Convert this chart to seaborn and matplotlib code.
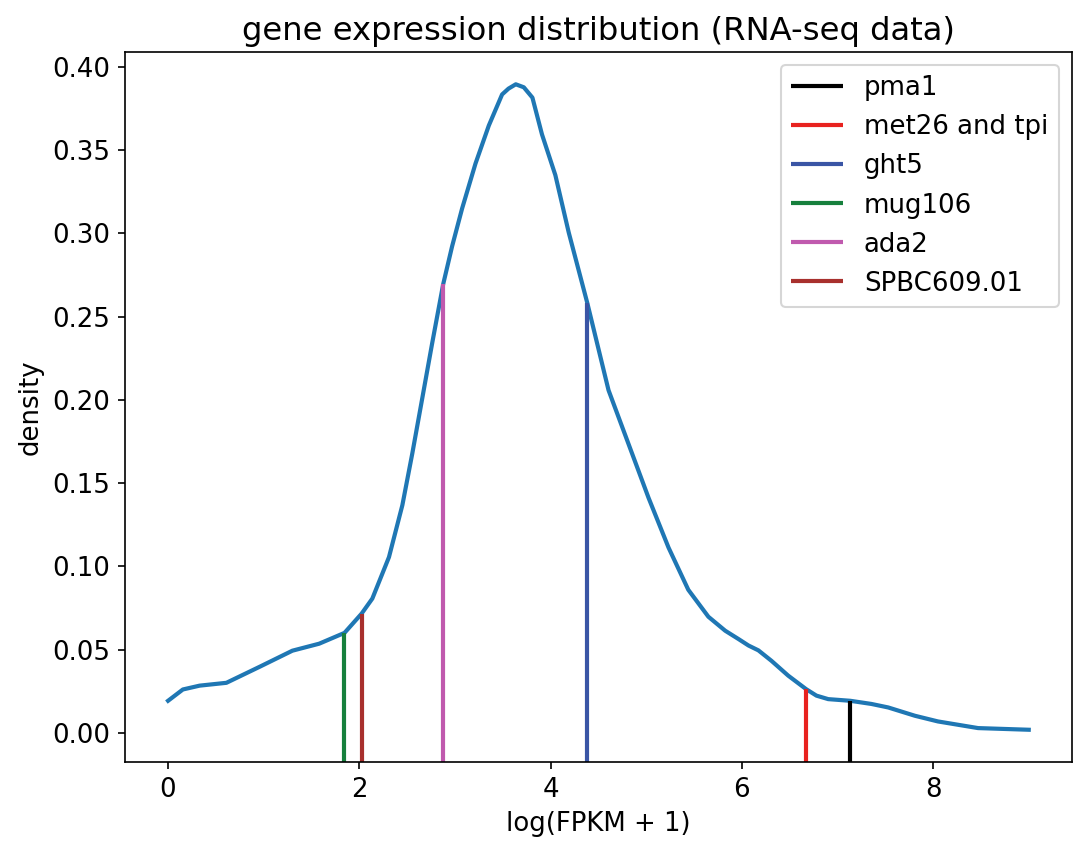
import numpy as np
import pandas as pd
import matplotlib
matplotlib.use("Agg")
import matplotlib.pyplot as plt
import seaborn as sns

# density curve
curve_x = [0.0, 0.155, 0.33, 0.61, 0.96, 1.30, 1.58, 1.845, 2.023, 2.136, 2.31,
           2.45, 2.554, 2.658, 2.762, 2.877, 2.97, 3.075, 3.215, 3.354, 3.493,
           3.56, 3.636, 3.72, 3.81, 3.91, 4.05, 4.19, 4.383, 4.606, 4.815, 5.024,
           5.233, 5.44, 5.65, 5.826, 5.965, 6.07, 6.173, 6.31, 6.485, 6.672, 6.78,
           6.903, 7.134, 7.355, 7.53, 7.81, 8.05, 8.47, 9.0]
curve_y = [0.0192, 0.026, 0.0283, 0.030, 0.0397, 0.0493, 0.0535, 0.060, 0.0715,
           0.0806, 0.1055, 0.1367, 0.1678, 0.2009, 0.2341, 0.2695, 0.2922, 0.315,
           0.342, 0.3648, 0.3835, 0.387, 0.3896, 0.3878, 0.3816, 0.3595, 0.335,
           0.3005, 0.2584, 0.2058, 0.1735, 0.1412, 0.1113, 0.0859, 0.0697, 0.0613,
           0.0563, 0.0524, 0.0495, 0.0432, 0.0343, 0.0262, 0.0223, 0.0202, 0.0192,
           0.0173, 0.0152, 0.0102, 0.0068, 0.0028, 0.0018]

genes = ["pma1", "met26 and tpi", "ght5", "mug106", "ada2", "SPBC609.01"]
gene_x = [7.134, 6.672, 4.383, 1.845, 2.877, 2.023]
gene_y = [0.0192, 0.0262, 0.2584, 0.060, 0.2695, 0.0715]
gene_colors = ["#000000", "#e8221f", "#3a55a5", "#17803d", "#c05aae", "#a8302d"]

df = pd.DataFrame({"x": curve_x, "y": curve_y})

fig, ax = plt.subplots(figsize=(1075 / 150, 850 / 150), dpi=150)
fig.subplots_adjust(left=0.1163, right=0.997, top=0.9388, bottom=0.1035)

sns.lineplot(data=df, x="x", y="y", ax=ax, color="#1f77b4", linewidth=2,
             legend=False, sort=False)
ax.margins(x=0.05, y=0.05)
ax.autoscale_view()
ylo, yhi = ax.get_ylim()

for g, gx, gy, c in zip(genes, gene_x, gene_y, gene_colors):
    ax.vlines(gx, ylo, gy, colors=c, linewidth=2, label=g)
ax.set_ylim(ylo, yhi)

ax.set_title("gene expression distribution (RNA-seq data)", fontsize=15.5)
ax.set_xlabel("log(FPKM + 1)", fontsize=12.5)
ax.set_ylabel("density", fontsize=12.5)
ax.tick_params(labelsize=12.5)
ax.set_xticks([0, 2, 4, 6, 8])
ax.set_yticks(np.arange(0, 0.401, 0.05))
ax.yaxis.set_major_formatter(matplotlib.ticker.FormatStrFormatter("%.2f"))
ax.legend(loc="upper right", fontsize=12.5)

fig.savefig("out.png", dpi=150)
